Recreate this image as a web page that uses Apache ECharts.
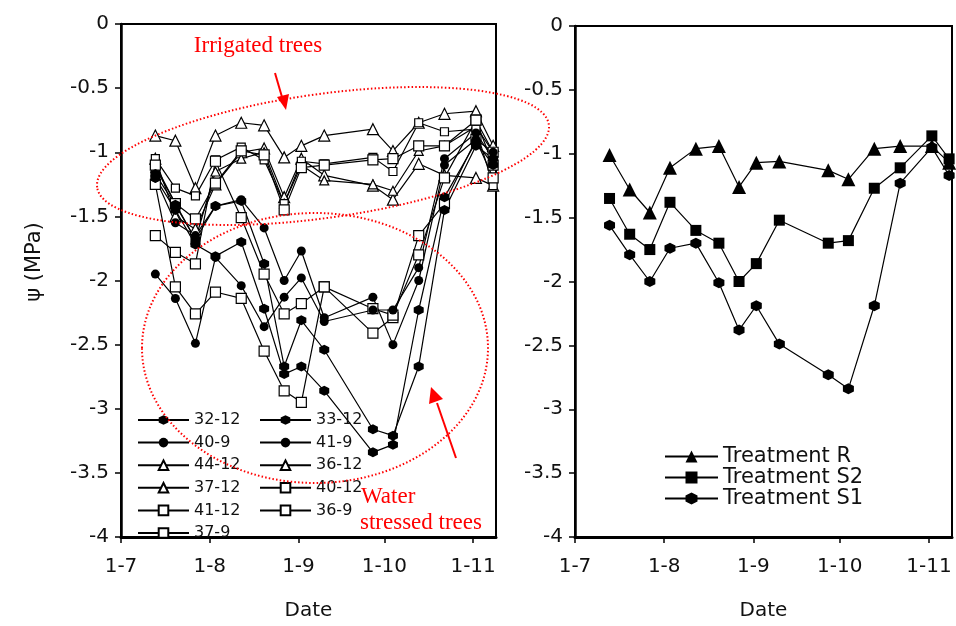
<!DOCTYPE html>
<html>
<head>
<meta charset="utf-8">
<title>Leaf water potential</title>
<script src="https://cdn.jsdelivr.net/npm/echarts@6/dist/echarts.min.js"></script>
<style>
  html, body { margin: 0; padding: 0; background: #fff; }
  #chart { width: 956px; height: 626px; }
</style>
</head>
<body>
<div id="chart"></div>
<script>
// sampling dates (month-day)
const dates = ['7-13', '7-20', '7-27', '8-3', '8-12', '8-20', '8-27', '9-2', '9-10',
  '9-27', '10-4', '10-13', '10-22', '11-2', '11-8']
// x axis: days counted from 1 July
const monthStart = { 7: 0, 8: 31, 9: 62, 10: 92, 11: 123 }
const tickDays = [0, 31, 62, 92, 123]
const tickLabels = ['1-7', '1-8', '1-9', '1-10', '1-11']
const dayMax = 131

// left panel, single trees (MPa)
const t4412 = [-0.87, -0.91, -1.28, -0.87, -0.77, -0.79, -1.04, -0.95, -0.87, -0.82, -0.99, -0.77, -0.70, -0.68, -0.95]
const t3612 = [-1.05, -1.50, -1.60, -1.25, -1.00, -0.97, -1.35, -1.05, -1.18, -1.26, -1.37, -1.09, -1.18, -1.20, -1.26]
const t3712 = [-1.12, -1.40, -1.68, -1.15, -1.05, -1.00, -1.40, -1.10, -1.22, -1.25, -1.30, -0.99, -0.95, -0.80, -1.00]
const s4012 = [-1.05, -1.28, -1.34, -1.06, -0.96, -1.06, -1.40, -1.07, -1.09, -1.04, -1.15, -0.77, -0.84, -0.82, -1.26]
const s4112 = [-1.10, -1.40, -1.52, -1.24, -0.99, -1.02, -1.45, -1.12, -1.10, -1.06, -1.05, -0.95, -0.95, -0.75, -1.10]
const h3212 = [-1.17, -1.41, -1.68, -1.42, -1.38, -1.87, -2.67, -2.31, -2.54, -3.16, -3.21, -2.67, -1.45, -0.95, -1.05]
const h3312 = [-1.20, -1.45, -1.72, -1.81, -1.70, -2.22, -2.73, -2.67, -2.86, -3.34, -3.28, -2.23, -1.35, -0.92, -1.10]
const c409 = [-1.20, -1.55, -1.65, -1.42, -1.37, -1.59, -2.00, -1.77, -2.29, -2.13, -2.50, -2.00, -1.10, -0.90, -1.00]
const c419 = [-1.95, -2.14, -2.49, -1.82, -2.04, -2.36, -2.13, -1.98, -2.32, -2.23, -2.23, -1.90, -1.05, -0.85, -1.05]
const s369 = [-1.25, -2.05, -2.26, -2.09, -2.14, -2.55, -2.86, -2.95, -2.05, -2.41, -2.29, -1.65, -1.40, -0.90, -1.20]
const s379 = [-1.65, -1.78, -1.87, -1.07, -1.51, -1.95, -2.26, -2.18, -2.05, -2.22, -2.27, -1.80, -1.20, -0.75, -1.00]

// right panel, treatment means (MPa)
const treatR = [-1.01, -1.28, -1.46, -1.11, -0.96, -0.94, -1.26, -1.07, -1.06, -1.13, -1.20, -0.96, -0.94, -0.94, -1.07]
const treatS2 = [-1.35, -1.63, -1.75, -1.38, -1.60, -1.70, -2.00, -1.86, -1.52, -1.70, -1.68, -1.27, -1.11, -0.86, -1.04]
const treatS1 = [-1.56, -1.79, -2.00, -1.74, -1.70, -2.01, -2.38, -2.19, -2.49, -2.73, -2.84, -2.19, -1.23, -0.95, -1.17]

const days = dates.map(s => {
  const [m, d] = s.split('-').map(Number)
  return monthStart[m] + d - 1
})

const FONT = 'DejaVu Sans'
const hex = 'path://M0,-10 L8,-5 L8,5 L0,10 L-8,5 L-8,-5 Z'

function line(name, vals, symbol, size, hollow, panel) {
  return {
    type: 'line',
    name: name,
    xAxisIndex: panel,
    yAxisIndex: panel,
    data: vals.map((v, i) => [days[i], v]),
    symbol: symbol,
    symbolSize: size,
    showSymbol: true,
    showAllSymbol: true,
    lineStyle: { color: '#000', width: 1.2 },
    itemStyle: hollow
      ? { color: '#fff', borderColor: '#000', borderWidth: 1.2 }
      : { color: '#000', borderColor: '#000', borderWidth: 0 },
    emphasis: { disabled: true }
  }
}

function xAxis(gridIndex) {
  return {
    type: 'value',
    gridIndex: gridIndex,
    min: 0,
    max: dayMax,
    axisLine: { onZero: false, lineStyle: { color: '#000', width: 3 } },
    axisTick: { customValues: tickDays, length: 6, lineStyle: { color: '#000', width: 1.5 } },
    axisLabel: {
      customValues: tickDays,
      margin: 20,
      fontFamily: FONT,
      fontSize: 20,
      color: '#111',
      formatter: v => tickLabels[tickDays.indexOf(v)]
    },
    splitLine: { show: false },
    name: 'Date',
    nameLocation: 'middle',
    nameGap: 64,
    nameTextStyle: { fontFamily: FONT, fontSize: 20, color: '#111' }
  }
}

function yAxis(gridIndex) {
  return {
    type: 'value',
    gridIndex: gridIndex,
    min: -4,
    max: 0,
    interval: 0.5,
    axisLine: { onZero: false, lineStyle: { color: '#000', width: 2.5 } },
    axisTick: { length: 6, lineStyle: { color: '#000', width: 1.5 } },
    axisLabel: { margin: 12, fontFamily: FONT, fontSize: 20, color: '#111' },
    splitLine: { show: false }
  }
}

const dotted = { fill: 'none', stroke: '#ff0000', lineWidth: 2, lineDash: [1.5, 2.2] }

const chart = echarts.init(document.getElementById('chart'))
chart.setOption({
  animation: false,
  backgroundColor: '#fff',
  grid: [
    { left: 121, top: 24, width: 375, height: 518, show: true, borderColor: '#000', borderWidth: 2 },
    { left: 575, top: 26, width: 377, height: 517, show: true, borderColor: '#000', borderWidth: 2 }
  ],
  xAxis: [xAxis(0), xAxis(1)],
  yAxis: [yAxis(0), yAxis(1)],
  legend: [
    {
      data: ['32-12', '40-9', '44-12', '37-12', '41-12', '37-9'],
      orient: 'vertical', left: 132, top: 407,
      itemWidth: 51, itemHeight: 12, itemGap: 6.6, selectedMode: false,
      textStyle: { fontFamily: FONT, fontSize: 16, color: '#111' }
    },
    {
      data: ['33-12', '41-9', '36-12', '40-12', '36-9'],
      orient: 'vertical', left: 254, top: 407,
      itemWidth: 51, itemHeight: 12, itemGap: 6.6, selectedMode: false,
      textStyle: { fontFamily: FONT, fontSize: 16, color: '#111' }
    },
    {
      data: ['Treatment R', 'Treatment S2', 'Treatment S1'],
      orient: 'vertical', left: 659, top: 441,
      itemWidth: 53, itemHeight: 15, itemGap: 0, selectedMode: false,
      textStyle: { fontFamily: FONT, fontSize: 21, lineHeight: 20, color: '#111' }
    }
  ],
  series: [
    line('44-12', t4412, 'triangle', 11, true, 0),
    line('36-12', t3612, 'triangle', 11, true, 0),
    line('37-12', t3712, 'triangle', 9, true, 0),
    line('40-12', s4012, 'rect', 8, true, 0),
    line('41-12', s4112, 'rect', 10, true, 0),
    line('36-9', s369, 'rect', 10, true, 0),
    line('37-9', s379, 'rect', 10, true, 0),
    line('32-12', h3212, hex, 10, false, 0),
    line('33-12', h3312, hex, 10, false, 0),
    line('40-9', c409, 'circle', 9, false, 0),
    line('41-9', c419, 'circle', 9, false, 0),
    line('Treatment R', treatR, 'triangle', 14, false, 1),
    line('Treatment S2', treatS2, 'rect', 11, false, 1),
    line('Treatment S1', treatS1, hex, 11, false, 1)
  ],
  graphic: [
    {
      type: 'text', x: 35, y: 262, rotation: Math.PI / 2,
      style: { text: 'ψ (MPa)', font: '21px "DejaVu Sans"', fill: '#111', align: 'center', verticalAlign: 'middle' }
    },
    // irrigated trees group
    { type: 'ellipse', x: 323, y: 156, rotation: 0.138, shape: { cx: 0, cy: 0, rx: 228, ry: 62 }, style: dotted, z: 10 },
    // water stressed trees group
    { type: 'ellipse', x: 315, y: 348, shape: { cx: 0, cy: 0, rx: 173, ry: 135 }, style: dotted, z: 10 },
    {
      type: 'text', x: 258, y: 46, z: 10,
      style: { text: 'Irrigated trees', font: '23px "Liberation Serif"', fill: '#ff0000', align: 'center', verticalAlign: 'middle' }
    },
    { type: 'line', z: 10, shape: { x1: 275, y1: 73, x2: 282, y2: 97 }, style: { stroke: '#ff0000', lineWidth: 2 } },
    { type: 'polygon', z: 10, shape: { points: [[286, 110], [277, 97], [289, 94]] }, style: { fill: '#ff0000' } },
    {
      type: 'text', x: 361, y: 497, z: 10,
      style: { text: 'Water', font: '23px "Liberation Serif"', fill: '#ff0000', align: 'left', verticalAlign: 'middle' }
    },
    {
      type: 'text', x: 360, y: 523, z: 10,
      style: { text: 'stressed trees', font: '23px "Liberation Serif"', fill: '#ff0000', align: 'left', verticalAlign: 'middle' }
    },
    { type: 'line', z: 10, shape: { x1: 456, y1: 458, x2: 437, y2: 403 }, style: { stroke: '#ff0000', lineWidth: 2 } },
    { type: 'polygon', z: 10, shape: { points: [[431, 387], [429, 404], [443, 399]] }, style: { fill: '#ff0000' } }
  ]
})
</script>
</body>
</html>
